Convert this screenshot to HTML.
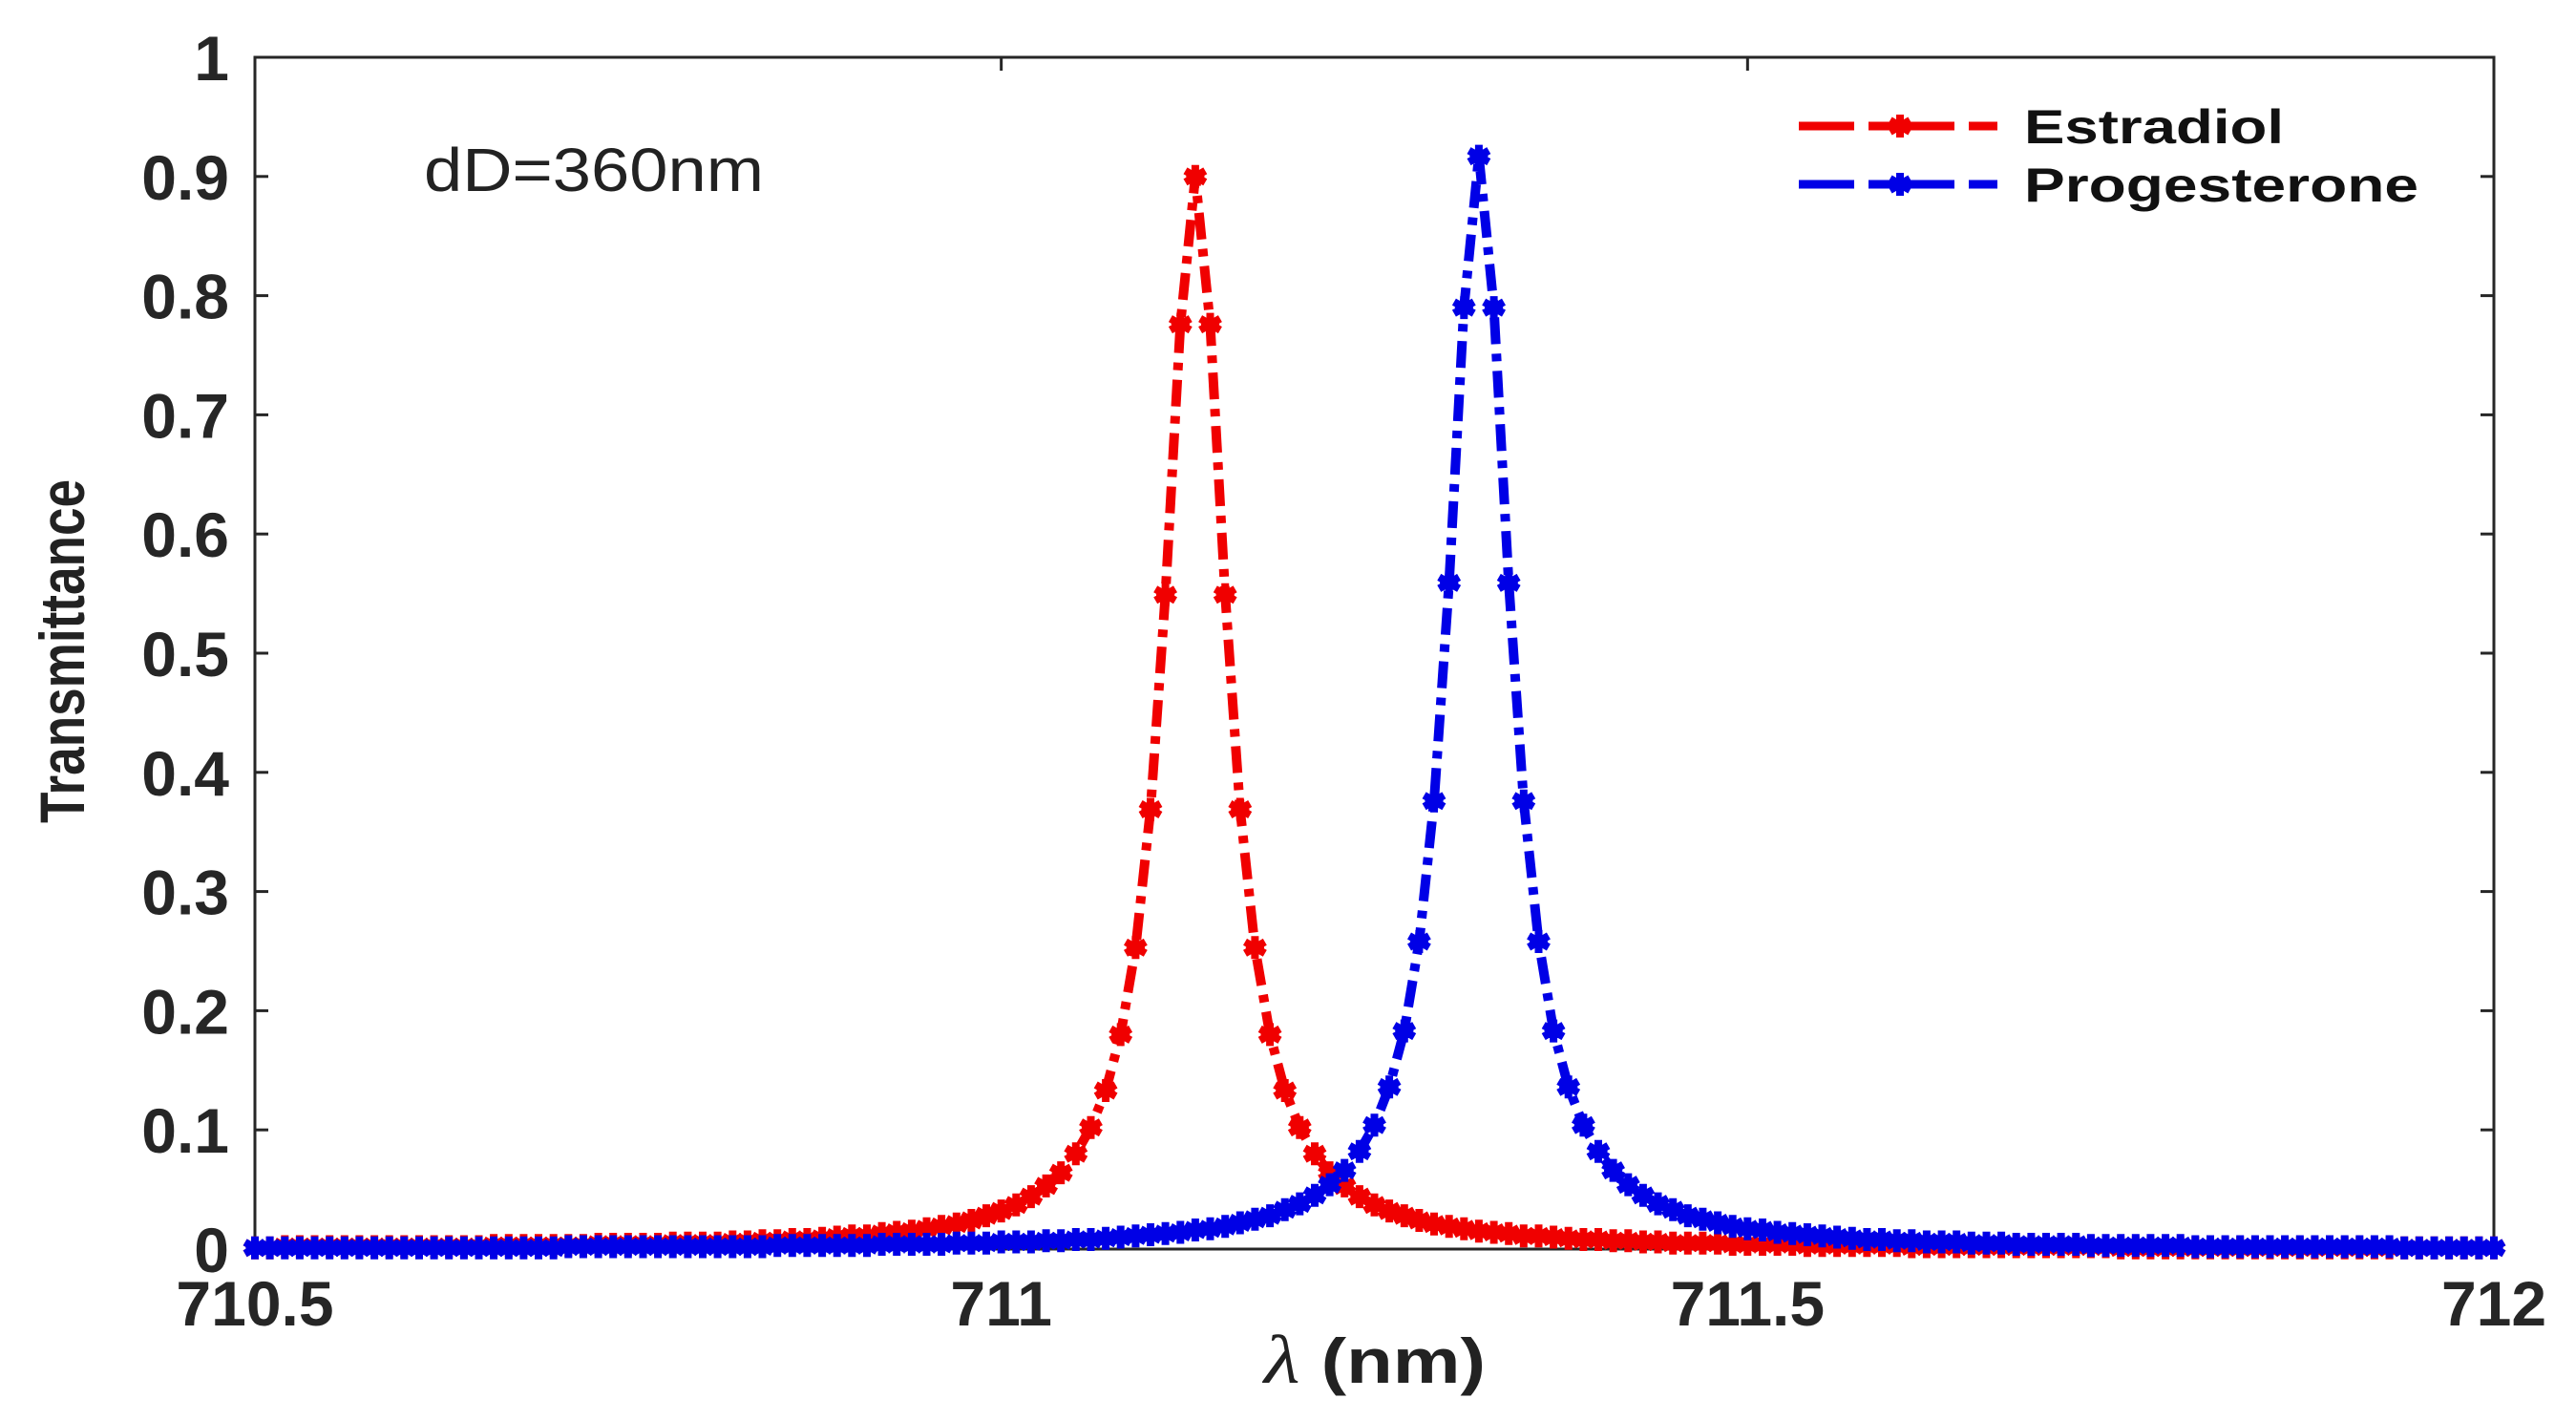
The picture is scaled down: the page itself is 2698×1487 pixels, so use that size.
<!DOCTYPE html>
<html><head><meta charset="utf-8"><style>
html,body{margin:0;padding:0;background:#fff;}
svg{display:block;font-family:"Liberation Sans",Arial,sans-serif;}
</style></head><body>
<svg id="chart" width="2698" height="1487" viewBox="0 0 2698 1487" xmlns="http://www.w3.org/2000/svg">
<rect x="0" y="0" width="2698" height="1487" fill="#fff"/>
<g id="axes"></g>
<g id="series"></g>
<text x="444" y="200" font-size="64" fill="#222" textLength="356" lengthAdjust="spacingAndGlyphs">dD=360nm</text>
<text transform="translate(88,682) rotate(-90)" text-anchor="middle" font-size="66" font-weight="bold" fill="#222" textLength="360" lengthAdjust="spacingAndGlyphs">Transmittance</text>
<text x="1440" y="1448" text-anchor="middle" font-size="66" font-weight="bold" fill="#222" textLength="232" lengthAdjust="spacingAndGlyphs"><tspan font-style="italic" font-family="Liberation Serif,serif" font-weight="normal" font-size="72">λ</tspan> (nm)</text>
<g id="legend"></g>
</svg>
<script>
const xStart = 710.5;
const xStep = 0.01;
const xTicks = [710.5, 711, 711.5, 712];
const xTickLabels = ["710.5", "711", "711.5", "712"];
const yTicks = [0, 0.1, 0.2, 0.3, 0.4, 0.5, 0.6, 0.7, 0.8, 0.9, 1];
const yTickLabels = ["0", "0.1", "0.2", "0.3", "0.4", "0.5", "0.6", "0.7", "0.8", "0.9", "1"];
const seriesNames = ["Estradiol", "Progesterone"];
const estradiol = [
.001,.001,
.002,.002,.002,.002,.002,.002,.002,.002,.002,.002,.002,.002,.002,.002,
.003,.003,.003,.003,.003,.003,.003,
.004,.004,.004,.004,.004,
.005,.005,.005,.005,.006,
.006,.007,.007,.008,.008,.009,.010,.011,.011,.013,.014,.015,.017,.019,.021,.024,.028,.032,.037,.044,.053,.064,.080,.102,.133,.180,.253,.369,.549,.776,
.900,.776,.549,.369,.253,.180,.133,.102,.080,.064,.053,.044,.037,.032,.028,.024,.021,.019,.017,.015,.014,.013,.011,.011,.010,.009,.008,.008,.007,.007,.006,
.006,.005,.005,.005,.005,
.004,.004,.004,.004,.004,
.003,.003,.003,.003,.003,.003,.003,
.002,.002,.002,.002,.002,.002,.002,.002,.002,.002,.002,.002,.002,.002,
.001,.001,.001,.001,.001,.001,.001,.001,.001,.001,.001,.001,.001,.001,.001,.001,.001,.001,.001,.001,.001,.001,.001,.001,.001,.001
];
const progesterone = [
.001,.001,.001,.001,.001,.001,.001,.001,.001,.001,.001,.001,.001,.001,.001,.001,.001,.001,.001,.001,.001,
.002,.002,.002,.002,.002,.002,.002,.002,.002,.002,.002,.002,.002,.002,
.003,.003,.003,.003,.003,.003,.003,
.004,.004,.004,.004,.004,
.005,.005,.005,.006,.006,
.006,.007,.007,.008,.008,.009,.010,.011,.012,.013,.014,.016,.017,.019,.022,.025,.028,.033,.038,.045,.054,.066,.082,.104,.136,.183,.258,.376,.559,.790,
.917,.790,.559,.376,.258,.183,.136,.104,.082,.066,.054,.045,.038,.033,.028,.025,.022,.019,.017,.016,.014,.013,.012,.011,.010,.009,.008,.008,.007,.007,.006,
.006,.006,.005,.005,.005,
.004,.004,.004,.004,.004,
.003,.003,.003,.003,.003,.003,.003,
.002,.002,.002,.002,.002,.002,.002,.002,.002,.002,.002,.002,.002,.002,
.001,.001,.001,.001,.001,.001,.001
];

const NS = "http://www.w3.org/2000/svg";
const L = 267, R = 2612, T = 60, B = 1308;
const xMin = 710.5, xMax = 712, yMin = 0, yMax = 1;
function xs(v){ return L + (v - xMin) / (xMax - xMin) * (R - L); }
function ys(v){ return B - (v - yMin) / (yMax - yMin) * (B - T); }
function mk(tag, attrs, parent){
  const e = document.createElementNS(NS, tag);
  for (const k in attrs) e.setAttribute(k, attrs[k]);
  parent.appendChild(e);
  return e;
}
const axes = document.getElementById('axes');
const box = mk('rect', {x:L, y:T, width:R-L, height:B-T, fill:'none', stroke:'#262626', 'stroke-width':3}, axes);


xTicks.forEach((v, i) => {
  const x = xs(v);
  const t1 = mk('line', {x1:x, x2:x, y1:B, y2:B-14, stroke:'#262626', 'stroke-width':3}, axes);
  
  
  const t2 = mk('line', {x1:x, x2:x, y1:T, y2:T+14, stroke:'#262626', 'stroke-width':3}, axes);
  
  
  const lb = mk('text', {x:x, y:1388, 'text-anchor':'middle', 'font-size':66, 'font-weight':'bold', fill:'#262626'}, axes);
  lb.textContent = xTickLabels[i];
  
  
});
yTicks.forEach((v, i) => {
  const y = ys(v);
  const t1 = mk('line', {x1:L, x2:L+14, y1:y, y2:y, stroke:'#262626', 'stroke-width':3}, axes);
  
  
  const t2 = mk('line', {x1:R, x2:R-14, y1:y, y2:y, stroke:'#262626', 'stroke-width':3}, axes);
  
  
  const lb = mk('text', {x:240, y:y+24, 'text-anchor':'end', 'font-size':66, 'font-weight':'bold', fill:'#262626'}, axes);
  lb.textContent = yTickLabels[i];
  
  
});
function star(cx, cy, r){
  let d = '';
  for (let a = 0; a < 3; a++){
    const ang = a * Math.PI / 3 + Math.PI/2;
    const dx = Math.cos(ang) * r, dy = Math.sin(ang) * r;
    d += 'M' + (cx-dx).toFixed(1) + ' ' + (cy-dy).toFixed(1) + 'L' + (cx+dx).toFixed(1) + ' ' + (cy+dy).toFixed(1);
  }
  d += 'M' + (cx-r*0.8).toFixed(1) + ' ' + cy.toFixed(1) + 'L' + (cx+r*0.8).toFixed(1) + ' ' + cy.toFixed(1);
  return d;
}
const seriesG = document.getElementById('series');
const colors = ['#f00000', '#0000e6'];
[estradiol, progesterone].forEach((vals, si) => {
  const g = mk('g', {}, seriesG);
  
  
  const pts = vals.map((v, i) => [xs(xStart + i * xStep), ys(v)]);
  const line = mk('path', {d: 'M' + pts.map(p => p[0].toFixed(1) + ' ' + p[1].toFixed(1)).join('L'), fill:'none', stroke:colors[si], 'stroke-width':10, 'stroke-dasharray':'28,10,8,10'}, g);
  
  
  let d = '';
  pts.forEach(p => { d += star(p[0], p[1], 12); });
  const m = mk('path', {d:d, fill:'none', stroke:colors[si], 'stroke-width':8}, g);
  
  
});
const leg = document.getElementById('legend');
[132, 193].forEach((y, si) => {
  const ln = mk('line', {x1:1884, x2:2093, y1:y, y2:y, stroke:colors[si], 'stroke-width':9, 'stroke-dasharray':'58,15,90,15,30'}, leg);
  
  
  const mm = mk('path', {d: star(1990, y, 12), stroke:colors[si], 'stroke-width':8, fill:'none'}, leg);
  
  
  const tx = mk('text', {x:2120, y:y+18, 'font-size':50, 'font-weight':'bold', fill:'#111'}, leg);
  tx.textContent = seriesNames[si];
  tx.setAttribute('textLength', si === 0 ? 272 : 413);
  tx.setAttribute('lengthAdjust', 'spacingAndGlyphs');
  
  
});
</script>
</body></html>
